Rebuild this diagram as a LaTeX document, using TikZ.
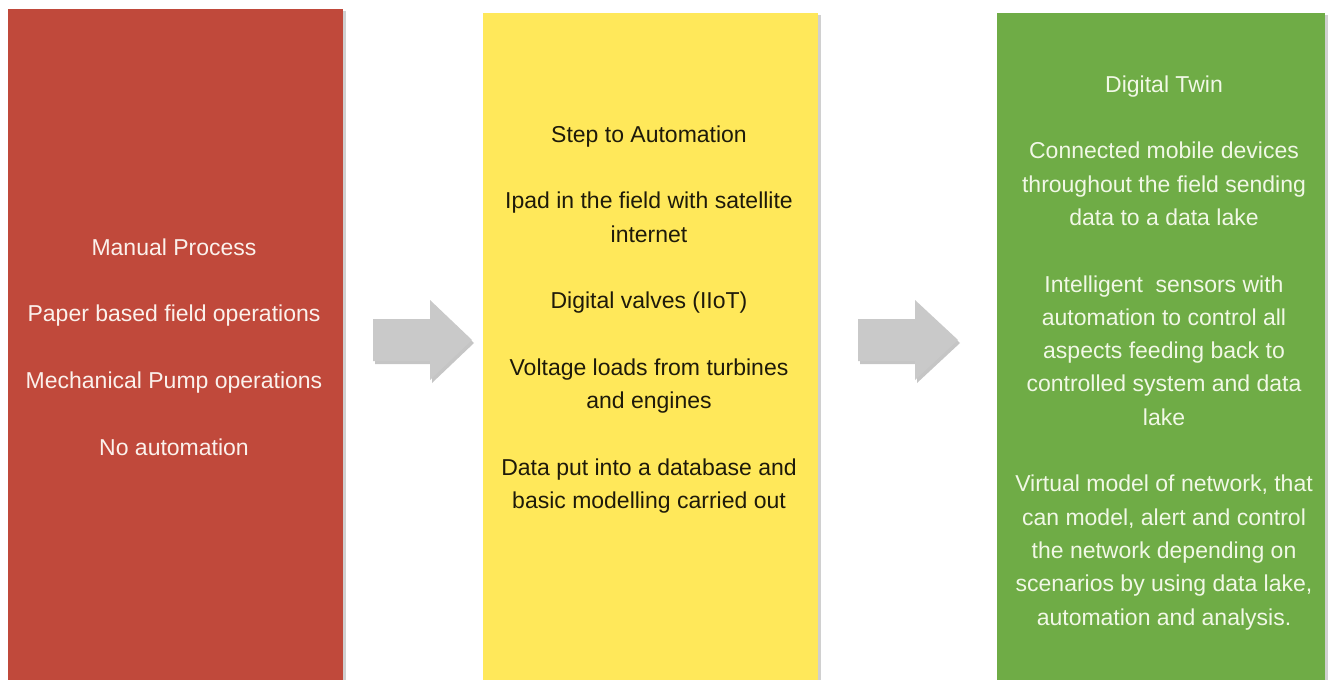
\documentclass[tikz,border=0pt]{standalone}
\usepackage{fontspec}
\setmainfont{Liberation Sans}
\usetikzlibrary{shadows}
\definecolor{stageRed}{HTML}{C0493B}
\definecolor{stageYellow}{HTML}{FFE85A}
\definecolor{stageGreen}{HTML}{6FAC46}
\definecolor{arrowGray}{HTML}{C9C9C9}
\definecolor{redText}{HTML}{FBF1EC}
\definecolor{greenText}{HTML}{F1F8E6}
\definecolor{yellowText}{HTML}{1E1A0A}
\begin{document}
\begin{tikzpicture}[x=1pt,y=-1pt,
  stage/.style={draw=none, inner sep=0pt, anchor=north west, minimum height=700pt,
    drop shadow={shadow xshift=3pt, shadow yshift=-2pt, opacity=0.3, fill=black!60}},
  stagetext/.style={align=center, anchor=base, inner sep=0pt,
    font=\fontsize{23}{33.3}\selectfont},
  blockarrow/.style={fill=arrowGray, draw=none,
    drop shadow={shadow xshift=2pt, shadow yshift=-3pt, opacity=0.45, fill=black!50}}]
\clip (0,0) rectangle (1334,680);
\fill[white] (0,0) rectangle (1334,680);

% the three stage columns
\node[stage, fill=stageRed, minimum width=335pt] (manual) at (8,9) {};
\node[stage, fill=stageYellow, minimum width=335pt] (auto) at (483,13) {};
\node[stage, fill=stageGreen, minimum width=328pt] (twin) at (997,13) {};

% block arrows between the columns
\path[blockarrow] (373,319) -- (430,319) -- (430,300) -- (472,340) -- (430,380)
  -- (430,361) -- (373,361) -- cycle;
\path[blockarrow] (858,319) -- (915,319) -- (915,300) -- (958,340) -- (915,380)
  -- (915,361) -- (858,361) -- cycle;

% column texts (anchored at the baseline of their last line)
\node[stagetext, text=redText] (manualtext) at (174,455) {Manual Process\\[33.3pt]
  Paper based field operations\\[33.3pt]
  Mechanical Pump operations\\[33.3pt]
  No automation};
\node[stagetext, text=yellowText] (autotext) at (649,508.5) {Step to Automation\\[33.3pt]
  Ipad in the field with satellite\\
  internet\\[33.3pt]
  Digital valves (IIoT)\\[33.3pt]
  Voltage loads from turbines\\
  and engines\\[33.3pt]
  Data put into a database and\\
  basic modelling carried out};
\node[stagetext, text=greenText] (twintext) at (1164,625) {Digital Twin\\[33.3pt]
  Connected mobile devices\\
  throughout the field sending\\
  data to a data lake\\[33.3pt]
  Intelligent\ \ sensors with\\
  automation to control all\\
  aspects feeding back to\\
  controlled system and data\\
  lake\\[33.3pt]
  Virtual model of network, that\\
  can model, alert and control\\
  the network depending on\\
  scenarios by using data lake,\\
  automation and analysis.};
\end{tikzpicture}
\end{document}
